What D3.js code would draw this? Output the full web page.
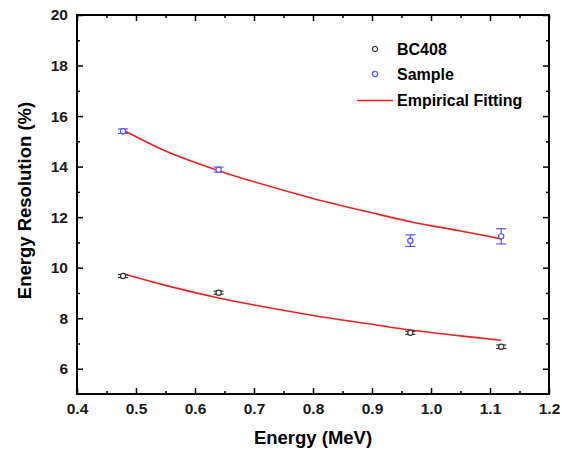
<!DOCTYPE html>
<html>
<head>
<meta charset="utf-8">
<script src="https://cdn.jsdelivr.net/npm/d3@7"></script>
<style>
  body { margin: 0; background: #fff; }
  svg text { font-family: "Liberation Sans", Arial, sans-serif; font-weight: bold; }
</style>
</head>
<body>
<svg id="chart" width="562" height="455"></svg>
<script>
// measured points
const energy = [0.478, 0.64, 0.965, 1.119];
const bc408 = [9.67, 9.01, 7.42, 6.87];
const bc408Err = [0.06, 0.06, 0.06, 0.07];
const sample = [15.4, 13.88, 11.07, 11.24];
const sampleErr = [0.09, 0.1, 0.23, 0.3];

// fitted curves
const fitEnergy = [0.478, 0.55, 0.64, 0.7, 0.8, 0.9, 0.965, 1.05, 1.119];
const fitSample = [15.45, 14.62, 13.84, 13.40, 12.74, 12.17, 11.82, 11.45, 11.14];
const fitBC408 = [9.76, 9.3, 8.8, 8.52, 8.11, 7.76, 7.53, 7.30, 7.13];

const xTicks = [0.4, 0.5, 0.6, 0.7, 0.8, 0.9, 1.0, 1.1, 1.2];
const yTicks = [6, 8, 10, 12, 14, 16, 18, 20];

const margin = {top: 15, right: 13, bottom: 61, left: 77};
const width = 562 - margin.left - margin.right;
const height = 455 - margin.top - margin.bottom;

const svg = d3.select("#chart")
.append("g")
.attr("transform", "translate(" + margin.left + "," + margin.top + ")");

const x = d3.scaleLinear().domain([0.4, 1.2]).range([0, width]);
const y = d3.scaleLinear().domain([5, 20]).range([height, 0]);

// ticks point inward on all four sides
function addAxis(axis, tr, major, minor, labels) {
	const g = svg.append("g").attr("transform", tr);
	g.call(axis.tickValues(minor).tickSize(3).tickFormat(""));
	g.select(".domain").remove();
	const g2 = svg.append("g").attr("transform", tr);
	g2.call(axis.tickValues(major).tickSize(6).tickFormat(labels));
	g2.select(".domain").remove();
	return g2;
}
const xMinor = d3.range(0.45, 1.2, 0.1);
const yMinor = d3.range(7, 20, 2);

const xb = addAxis(d3.axisTop(x), "translate(0," + height + ")", xTicks, xMinor, d3.format(".1f"));
xb.selectAll("text").attr("y", 9).attr("dy", "0.71em");
addAxis(d3.axisBottom(x), "translate(0,0)", xTicks, xMinor, "");
const yl = addAxis(d3.axisRight(y), "translate(0,0)", yTicks, yMinor, d3.format("d"));
yl.selectAll("text").attr("x", -9).attr("text-anchor", "end");
addAxis(d3.axisLeft(y), "translate(" + width + ",0)", yTicks, yMinor, "");

svg.selectAll(".tick line").attr("stroke", "#000").attr("stroke-width", 1.5);
svg.selectAll(".tick text").attr("font-size", 15.5).attr("fill", "#1a1a1a");

svg.append("rect")
.attr("width", width)
.attr("height", height)
.attr("fill", "none")
.attr("stroke", "#000")
.attr("stroke-width", 2);

// fitted lines
const line = d3.line().curve(d3.curveCatmullRom);
[fitSample, fitBC408].forEach(vals => {
	svg.append("path")
	.attr("d", line(fitEnergy.map((e, i) => [x(e), y(vals[i])])))
	.attr("fill", "none")
	.attr("stroke", "#f02020")
	.attr("stroke-width", 1.6);
});

function drawPoints(vals, errs, color) {
	const g = svg.append("g").attr("stroke", color).attr("fill", "none").attr("stroke-width", 1.2);
	energy.forEach((e, i) => {
		const cx = x(e);
		const top = y(vals[i] + errs[i]);
		const bot = y(vals[i] - errs[i]);
		g.append("line").attr("x1", cx).attr("x2", cx).attr("y1", top).attr("y2", bot);
		g.append("line").attr("x1", cx - 5).attr("x2", cx + 5).attr("y1", top).attr("y2", top);
		g.append("line").attr("x1", cx - 5).attr("x2", cx + 5).attr("y1", bot).attr("y2", bot);
		g.append("circle").attr("cx", cx).attr("cy", y(vals[i])).attr("r", 2.6).attr("fill", "#fff");
	});
}
drawPoints(bc408, bc408Err, "#333");
drawPoints(sample, sampleErr, "#5555ff");

// legend
const legend = svg.append("g").attr("transform", "translate(" + (375 - margin.left) + "," + (49 - margin.top) + ")");
legend.append("circle").attr("r", 2.6).attr("fill", "none").attr("stroke", "#333").attr("stroke-width", 1.2);
legend.append("text").attr("x", 22).attr("y", 6).attr("font-size", 16).text("BC408");
legend.append("circle").attr("cy", 25).attr("r", 2.6).attr("fill", "none").attr("stroke", "#5555ff").attr("stroke-width", 1.2);
legend.append("text").attr("x", 22).attr("y", 31).attr("font-size", 16).text("Sample");
legend.append("line").attr("x1", -18).attr("x2", 18).attr("y1", 51.5).attr("y2", 51.5)
.attr("stroke", "#f02020").attr("stroke-width", 1.6);
legend.append("text").attr("x", 22).attr("y", 57).attr("font-size", 16).text("Empirical Fitting");

// axis labels
svg.append("text")
.attr("x", width / 2)
.attr("y", height + 50)
.attr("text-anchor", "middle")
.attr("font-size", 18.5)
.text("Energy (MeV)");

svg.append("text")
.attr("transform", "rotate(-90)")
.attr("x", -height / 2 + 4)
.attr("y", -46)
.attr("text-anchor", "middle")
.attr("font-size", 18.5)
.text("Energy Resolution (%)");
</script>
</body>
</html>
